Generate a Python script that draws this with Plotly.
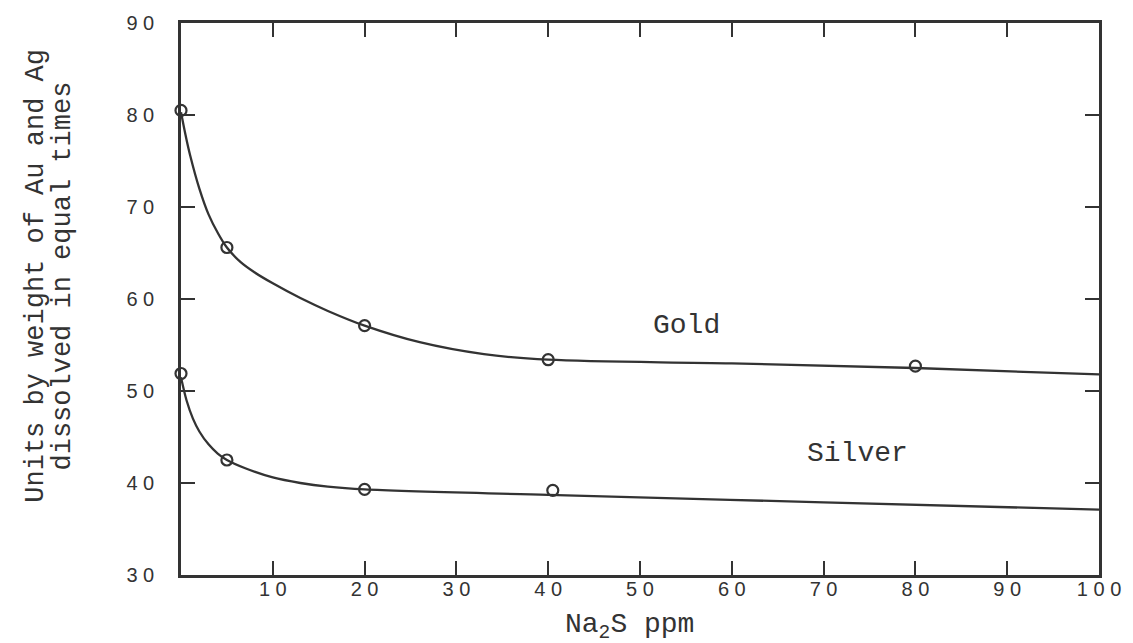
import plotly.graph_objects as go

# Measured data points (Na2S ppm vs units dissolved)
gold_x = [0, 5, 20, 40, 80]
gold_y = [80.5, 65.6, 57.1, 53.4, 52.7]
silver_x = [0, 5, 20, 40.5]
silver_y = [51.9, 42.5, 39.3, 39.2]

# Hand-drawn smooth curves
gold_curve_x = [0, 0.5, 1, 2, 3, 4, 5, 6.5, 8, 10, 13, 16, 20, 26, 33, 40, 60, 80, 100]
gold_curve_y = [80.3, 77.8, 75.6, 72.0, 69.2, 67.2, 65.6, 64.0, 62.9, 61.7, 60.1, 58.7, 57.1,
                55.3, 54.0, 53.4, 53.0, 52.5, 51.8]
silver_curve_x = [0, 0.6, 1.3, 2, 3, 4, 5, 7, 10, 13, 16, 20, 40, 70, 100]
silver_curve_y = [51.5, 49.0, 47.0, 45.6, 44.2, 43.2, 42.5, 41.6, 40.6, 40.0, 39.6, 39.3,
                  38.7, 37.9, 37.1]

x_ticks = [10, 20, 30, 40, 50, 60, 70, 80, 90, 100]
x_tick_text = ["1 0", "2 0", "3 0", "4 0", "5 0", "6 0", "7 0", "8 0", "9 0", "1 0 0"]
y_ticks = [30, 40, 50, 60, 70, 80, 90]
y_tick_text = ["3 0", "4 0", "5 0", "6 0", "7 0", "8 0", "9 0"]

INK = "#333333"
MONO = "Liberation Mono, Courier New, monospace"
SANS = "Liberation Sans, Arial, sans-serif"

W, H = 1133, 643
L, R, T, B = 181, 27, 20, 68
PW, PH = W - L - R, H - T - B


def px_x(p):
    return (p - L) / PW


def px_y(p):
    return (T + PH - p) / PH


fig = go.Figure()
for cx, cy in [(gold_curve_x, gold_curve_y), (silver_curve_x, silver_curve_y)]:
    fig.add_trace(go.Scatter(x=cx, y=cy, mode="lines",
                             line=dict(color=INK, width=2.3, shape="spline", smoothing=1.0),
                             hoverinfo="skip", showlegend=False, cliponaxis=False))
for px, py, name in [(gold_x, gold_y, "Gold"), (silver_x, silver_y, "Silver")]:
    fig.add_trace(go.Scatter(x=px, y=py, mode="markers", name=name,
                             marker=dict(symbol="circle-open", size=11, color=INK,
                                         line=dict(width=2.2, color=INK)),
                             showlegend=False, cliponaxis=False))

fig.add_annotation(x=55.1, y=57.1, text="Gold", showarrow=False,
                   font=dict(family=MONO, size=28, color=INK))
fig.add_annotation(x=73.7, y=43.2, text="Silver", showarrow=False,
                   font=dict(family=MONO, size=28, color=INK))

for text, cx in [("Units by weight of Au and Ag", 35), ("dissolved in equal times", 62)]:
    fig.add_annotation(xref="paper", yref="paper", x=px_x(cx), y=px_y(274),
                       xanchor="center", yanchor="middle", textangle=-90, showarrow=False,
                       text=text, font=dict(family=MONO, size=27, color=INK))

fig.add_annotation(xref="paper", yref="paper", x=px_x(633), y=px_y(627),
                   xanchor="center", yanchor="middle", showarrow=False,
                   text="Na<sub>2</sub>S ppm", font=dict(family=MONO, size=28, color=INK))

fig.update_layout(
    width=W, height=H,
    margin=dict(l=L, r=R, t=T, b=B),
    paper_bgcolor="white", plot_bgcolor="white",
    xaxis=dict(range=[0, 100], tickvals=x_ticks, ticktext=x_tick_text,
               ticks="inside", ticklen=14, tickwidth=2, tickcolor=INK,
               showline=True, linewidth=2.5, linecolor=INK, mirror="ticks",
               showgrid=False, zeroline=False, ticklabelstandoff=-6,
               tickfont=dict(family=SANS, size=20, color=INK)),
    yaxis=dict(range=[30, 90], tickvals=y_ticks, ticktext=y_tick_text,
               ticks="inside", ticklen=14, tickwidth=2, tickcolor=INK,
               showline=True, linewidth=2.5, linecolor=INK, mirror="ticks",
               showgrid=False, zeroline=False, ticklabelstandoff=20,
               tickfont=dict(family=SANS, size=20, color=INK)),
)

fig.write_html("out.html", config={"displayModeBar": False},
               post_script="document.body.style.margin='0';")
